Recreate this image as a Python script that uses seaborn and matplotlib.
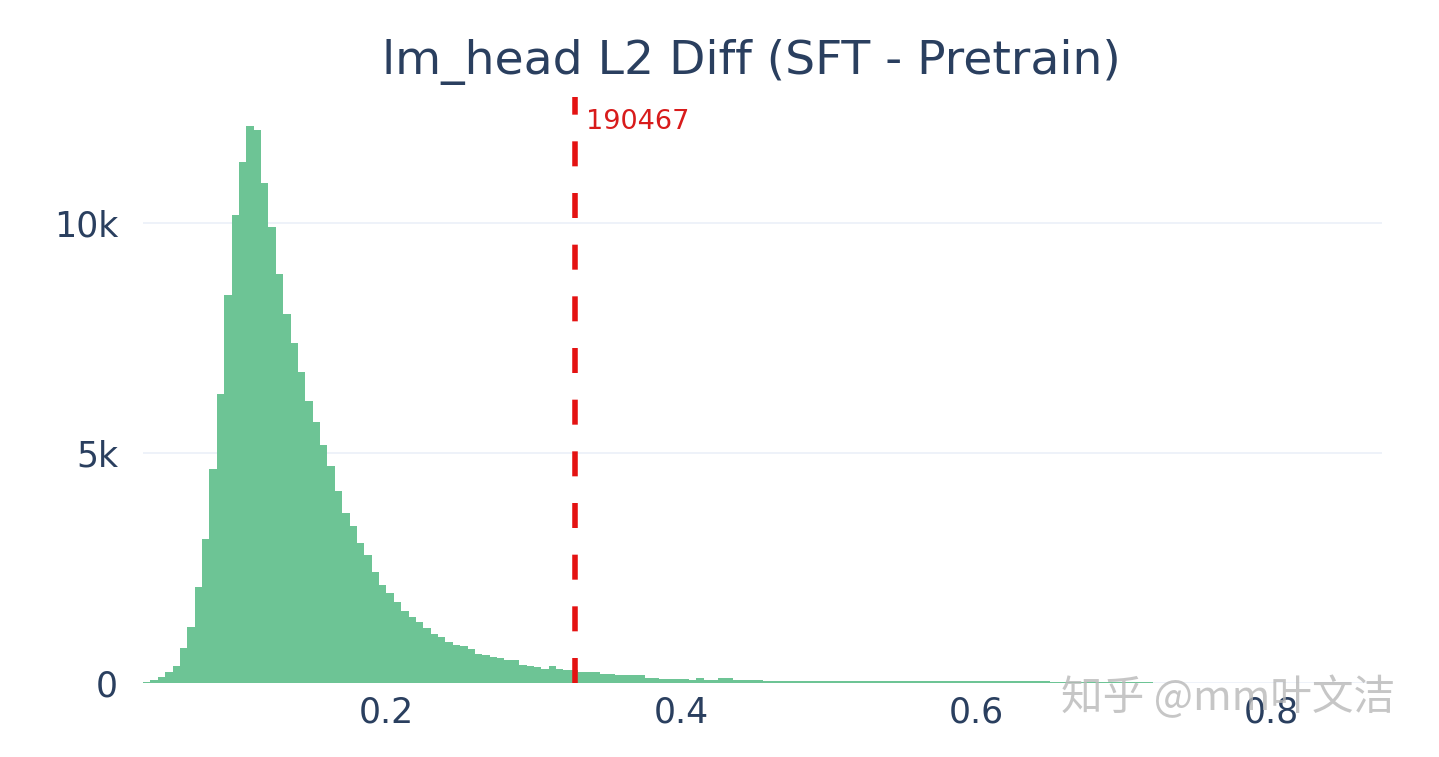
import numpy as np
import pandas as pd
import matplotlib.pyplot as plt
import seaborn as sns

# ---- data (counts in thousands, bins of 0.005 from 0.035) ----
bin_start = 0.035
bin_width = 0.005
counts_k = [
    # 0.035 - 0.080
    0.03, 0.07, 0.13, 0.25, 0.38, 0.76, 1.23, 2.10, 3.13, 4.67,
    # 0.085 - 0.130
    6.30, 8.44, 10.18, 11.33, 12.12, 12.04, 10.87, 9.93, 8.89, 8.02,
    # 0.135 - 0.180
    7.39, 6.76, 6.14, 5.69, 5.18, 4.72, 4.18, 3.71, 3.42, 3.04,
    # 0.185 - 0.230
    2.79, 2.43, 2.14, 1.96, 1.77, 1.57, 1.45, 1.34, 1.20, 1.07,
    # 0.235 - 0.280
    1.01, 0.90, 0.84, 0.80, 0.74, 0.64, 0.62, 0.58, 0.56, 0.51,
    # 0.285 - 0.330
    0.50, 0.40, 0.38, 0.36, 0.30, 0.38, 0.30, 0.29, 0.28, 0.25,
    # 0.335 - 0.380
    0.25, 0.24, 0.20, 0.20, 0.19, 0.19, 0.18, 0.17, 0.11, 0.11,
    # 0.385 - 0.430
    0.10, 0.10, 0.10, 0.09, 0.08, 0.11, 0.07, 0.07, 0.12, 0.11,
    # 0.435 - 0.465
    0.07, 0.07, 0.07, 0.07, 0.06, 0.06, 0.06,
    # 0.470 - 0.495
    0.06, 0.06, 0.06, 0.06, 0.06, 0.06,
    # 0.500 - 0.545
    0.05, 0.05, 0.05, 0.05, 0.05, 0.05, 0.05, 0.05, 0.05, 0.05,
    # 0.550 - 0.645
    0.045, 0.045, 0.045, 0.045, 0.045, 0.045, 0.045, 0.045, 0.045, 0.045,
    0.045, 0.045, 0.045, 0.045, 0.045, 0.045, 0.045, 0.045, 0.045, 0.045,
    # 0.650 - 0.715
    0.03, 0.03, 0.03, 0.03, 0.03, 0.03, 0.03, 0.03, 0.03, 0.03,
    0.03, 0.03, 0.03, 0.03,
    # 0.720 - 0.795
    0.01, 0.01, 0.01, 0.01, 0.01, 0.01, 0.01, 0.01, 0.01, 0.01,
    0.01, 0.01, 0.01, 0.01, 0.01, 0.01,
    # 0.800 - 0.870
    0.003, 0.003, 0.003, 0.003, 0.003, 0.003, 0.003, 0.003, 0.003, 0.003,
    0.003, 0.003, 0.003, 0.003, 0.003,
]

threshold = 0.328
threshold_label = "190467"
title = "lm_head L2 Diff (SFT - Pretrain)"
x_ticks = [0.2, 0.4, 0.6, 0.8]
y_ticks = [0, 5000, 10000]
y_tick_labels = ["0", "5k", "10k"]
watermark = "知乎 @mm叶文洁"

edges = bin_start + bin_width * np.arange(len(counts_k) + 1)
df = pd.DataFrame({
    'l2_diff': edges[:-1] + bin_width / 2,
    'count': np.array(counts_k) * 1000,
})

sns.set_theme(style="white")
plt.rcParams['font.family'] = ['DejaVu Sans']

fig = plt.figure(figsize=(14.39, 7.57), dpi=100)
ax = fig.add_axes([0.0994, 0.0974, 0.8610, 0.7745])

# step element gives one continuous filled outline, like the reference
sns.histplot(data=df, x='l2_diff', weights='count', bins=edges.tolist(),
             element='step', fill=True, color='#6dc495', alpha=1,
             edgecolor='none', linewidth=0, ax=ax)

# threshold marker
ax.axvline(threshold, color='#e41212', lw=4, ls=(0, (4.5, 4.8)), zorder=5)
ax.text(0.3351, 12200, threshold_label, color='#d81b1b', fontsize=19.5,
        ha='left', va='center')

ax.set_xlim(edges[0], edges[-1])
ax.set_ylim(0, 12750)
ax.set_xticks(x_ticks)
ax.set_xticklabels([f"{t:.1f}" for t in x_ticks])
ax.set_yticks(y_ticks)
ax.set_yticklabels(y_tick_labels)
ax.set_xlabel("")
ax.set_ylabel("")

ax.yaxis.grid(True, color='#ebf0f8', lw=1.2)
ax.xaxis.grid(False)
ax.set_axisbelow(True)
sns.despine(ax=ax, left=True, bottom=True)
ax.tick_params(axis='both', length=0, labelsize=25, colors='#2a3f5f')
ax.tick_params(axis='x', pad=9)
ax.tick_params(axis='y', pad=18)

fig.text(0.522, 0.918, title, ha='center', va='center', fontsize=34, color='#2a3f5f')

# watermark from the source image
fig.text(0.737, 0.079, watermark, ha='left', va='center', fontsize=30,
         color='#b8b8b8', alpha=0.8, family=['Noto Sans CJK SC', 'DejaVu Sans'])

fig.savefig('out.png', dpi=100)
